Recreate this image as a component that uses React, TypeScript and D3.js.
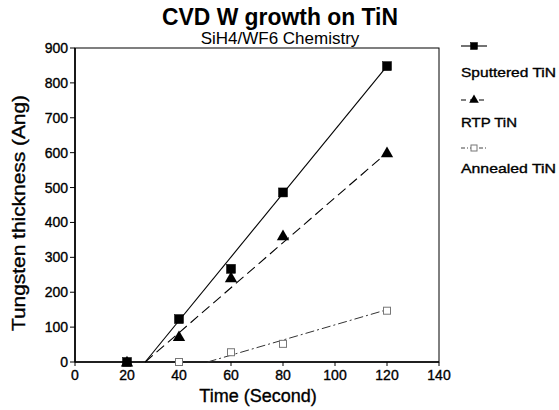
import React from "react";
import * as d3 from "d3";

// ---- data ----
const times = [20, 40, 60, 80, 120];
const sputtered = [0, 123, 267, 486, 848];
const rtp = [0, 73, 242, 362, 600];
const annealed = [0, 0, 28, 52, 147];

// fitted trend lines (start / end points)
const sputteredFit: [number, number][] = [[27, 0], [120, 848]];
const rtpFit: [number, number][] = [[27, 0], [120, 600]];
const annealedFit: [number, number][] = [[51, 0], [120, 150]];

const xTicks = [0, 20, 40, 60, 80, 100, 120, 140];
const yTicks = [0, 100, 200, 300, 400, 500, 600, 700, 800, 900];

const seriesNames = ["Sputtered TiN", "RTP TiN", "Annealed TiN"];

const W = 559;
const H = 410;
const FONT = "'Liberation Sans', Arial, Helvetica, sans-serif";

export default function App() {
  const x = d3.scaleLinear().domain([0, 140]).range([75, 439]);
  const y = d3.scaleLinear().domain([0, 900]).range([362, 48]);
  const line = d3
    .line<[number, number]>()
    .x((d) => x(d[0]))
    .y((d) => y(d[1]));

  const tri = d3.symbol().type(d3.symbolTriangle).size(66)();

  const sq = (cx: number, cy: number, s: number, filled: boolean, key: string) => (
    <rect
      key={key}
      x={cx - s / 2}
      y={cy - s / 2}
      width={s}
      height={s}
      fill={filled ? "#000" : "#fff"}
      stroke={filled ? "#000" : "#777"}
      strokeWidth={filled ? 0.5 : 1}
    />
  );

  const legendY = [46, 100, 148];
  const legendTextY = [77, 127, 173];
  const legendTextLen = [95, 56, 95];
  const heavy = { stroke: "#000", strokeWidth: 0.35 };

  return (
    <svg
      width={W}
      height={H}
      style={{ position: "absolute", left: 0, top: 0, background: "#fff" }}
      fontFamily={FONT}
    >
      <rect width={W} height={H} fill="#fff" />
      {/* titles */}
      <text x={280} y={25} textAnchor="middle" fontSize={24} fontWeight="bold" textLength={236} lengthAdjust="spacingAndGlyphs">
        CVD W growth on TiN
      </text>
      <text x={280} y={44} textAnchor="middle" fontSize={17}>
        SiH4/WF6 Chemistry
      </text>

      {/* frame */}
      <rect
        x={x(0)}
        y={y(900)}
        width={x(140) - x(0)}
        height={y(0) - y(900)}
        fill="none"
        stroke="#000"
        strokeWidth={1}
      />
      <line x1={x(0)} x2={x(0)} y1={y(900)} y2={y(0)} stroke="#000" strokeWidth={1.6} />
      <line x1={x(0)} x2={x(140)} y1={y(0)} y2={y(0)} stroke="#000" strokeWidth={1.6} />

      {/* y ticks */}
      {yTicks.map((t) => (
        <g key={"y" + t}>
          <line x1={x(0) - 5} x2={x(0)} y1={y(t)} y2={y(t)} stroke="#000" strokeWidth={1} />
          <text x={x(0) - 7} y={y(t)} dy="0.36em" textAnchor="end" fontSize={14} {...heavy}>
            {t}
          </text>
        </g>
      ))}
      {/* x ticks */}
      {xTicks.map((t) => (
        <g key={"x" + t}>
          <line x1={x(t)} x2={x(t)} y1={y(0)} y2={y(0) + 4} stroke="#000" strokeWidth={1} />
          <text x={x(t)} y={y(0) + 18} textAnchor="middle" fontSize={14} {...heavy}>
            {t}
          </text>
        </g>
      ))}

      {/* axis titles */}
      <text x={258} y={402} textAnchor="middle" fontSize={18} {...heavy}>
        Time (Second)
      </text>
      <text
        transform={`translate(25,213) rotate(-90)`}
        textAnchor="middle"
        fontSize={18}
        textLength={236}
        lengthAdjust="spacingAndGlyphs"
        {...heavy}
      >
        Tungsten thickness (Ang)
      </text>

      {/* fit lines */}
      <path d={line(sputteredFit) || ""} fill="none" stroke="#000" strokeWidth={1.1} />
      <path
        d={line(rtpFit) || ""}
        fill="none"
        stroke="#000"
        strokeWidth={1.1}
        strokeDasharray="10,5"
      />
      <path
        d={line(annealedFit) || ""}
        fill="none"
        stroke="#333"
        strokeWidth={1}
        strokeDasharray="9,3,2,3"
      />

      {/* markers */}
      {times.map((t, i) => sq(x(t), y(annealed[i]), 7, false, "a" + i))}
      {times.map((t, i) => sq(x(t), y(sputtered[i]), 9, true, "s" + i))}
      {times.map((t, i) => (
        <path
          key={"r" + i}
          d={tri || ""}
          transform={`translate(${x(t)},${y(rtp[i]) + 1})`}
          fill="#000"
        />
      ))}

      {/* legend */}
      <g>
        <line x1={461} x2={487} y1={legendY[0]} y2={legendY[0]} stroke="#000" strokeWidth={1.1} />
        {sq(474, legendY[0], 7, true, "ls")}
        <line
          x1={461}
          x2={487}
          y1={legendY[1]}
          y2={legendY[1]}
          stroke="#000"
          strokeWidth={1.1}
          strokeDasharray="5,4"
        />
        <path
          d={d3.symbol().type(d3.symbolTriangle).size(40)() || ""}
          transform={`translate(474,${legendY[1]})`}
          fill="#000"
        />
        <line
          x1={461}
          x2={487}
          y1={legendY[2]}
          y2={legendY[2]}
          stroke="#444"
          strokeWidth={1}
          strokeDasharray="4,2,1,2"
        />
        {sq(474, legendY[2], 6, false, "la")}
        {seriesNames.map((n, i) => (
          <text
            key={n}
            x={461}
            y={legendTextY[i]}
            fontSize={13.5}
            textLength={legendTextLen[i]}
            lengthAdjust="spacingAndGlyphs"
            {...heavy}
          >
            {n}
          </text>
        ))}
      </g>
    </svg>
  );
}
